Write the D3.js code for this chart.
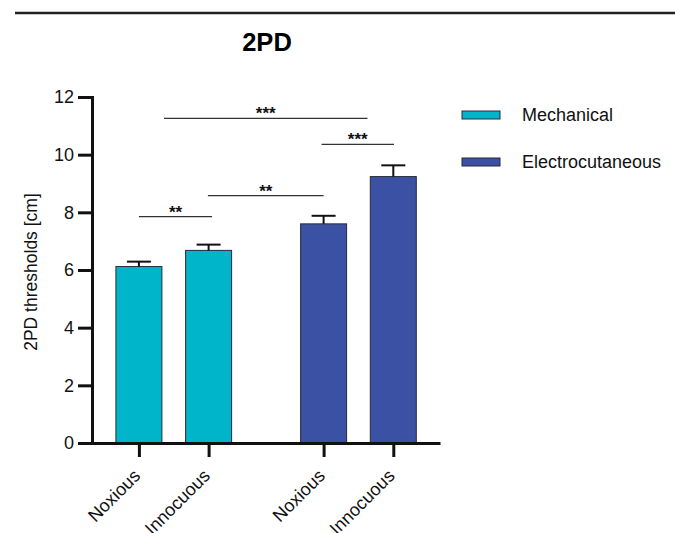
<!DOCTYPE html>
<html>
<head>
<meta charset="utf-8">
<script src="https://cdn.jsdelivr.net/npm/d3@7"></script>
<style>
  body { margin: 0; background: #fff; }
  svg { font-family: Arial, "Liberation Sans", sans-serif; }
</style>
</head>
<body>
<div id="chart"></div>
<script>
// data
var groups = ["Mechanical", "Electrocutaneous"];
var conditions = ["Noxious", "Innocuous"];
var means = [[6.12, 6.68], [7.6, 9.24]];
var errors = [[0.17, 0.2], [0.28, 0.39]];
var colors = ["#00b5c9", "#3a51a4"];
var yTicks = [0, 2, 4, 6, 8, 10, 12];
// significance brackets: start/end in bar slots, height in cm, label
var sigStart = [0, 0.99, 2.62, 0.36];
var sigEnd = [1.05, 2.65, 3.66, 3.28];
var sigLevel = [7.85, 8.58, 10.36, 11.26];
var sigLabel = ["**", "**", "***", "***"];

var svgWidth = 675, svgHeight = 533;
var groupGap = 2.65;

var svg = d3.select("#chart").append("svg")
  .attr("width", svgWidth)
  .attr("height", svgHeight);

// top rule
svg.append("line")
  .attr("x1", 15).attr("x2", 675)
  .attr("y1", 13).attr("y2", 13)
  .attr("stroke", "#222").attr("stroke-width", 2.5);

// title
svg.append("text")
  .attr("x", 267).attr("y", 51)
  .attr("text-anchor", "middle")
  .attr("font-size", "25.5px")
  .attr("font-weight", "bold")
  .text("2PD");

var slot = (g, c) => g * groupGap + c;

var x = d3.scaleLinear().domain([-0.673, 4.32]).range([92, 440]);
var y = d3.scaleLinear().domain([0, 12]).range([443, 97]);
var barW = 46;

// flatten bars
var bars = [];
groups.forEach((g, gi) => {
  conditions.forEach((c, ci) => {
    bars.push({ group: gi, cond: c, value: means[gi][ci], err: errors[gi][ci], pos: slot(gi, ci) });
  });
});

var chart = svg.append("g");

chart.selectAll("rect.bar")
  .data(bars)
  .enter()
  .append("rect")
  .attr("class", "bar")
  .attr("x", d => x(d.pos) - barW / 2)
  .attr("y", d => y(d.value))
  .attr("width", barW)
  .attr("height", d => y(0) - y(d.value))
  .attr("fill", d => colors[d.group])
  .attr("stroke", "#2a2a3a")
  .attr("stroke-width", 1);

// error bars (upper only)
chart.selectAll("line.err")
  .data(bars)
  .enter()
  .append("line")
  .attr("x1", d => x(d.pos)).attr("x2", d => x(d.pos))
  .attr("y1", d => y(d.value)).attr("y2", d => y(d.value + d.err))
  .attr("stroke", "#111").attr("stroke-width", 2);

chart.selectAll("line.cap")
  .data(bars)
  .enter()
  .append("line")
  .attr("x1", d => x(d.pos) - 12).attr("x2", d => x(d.pos) + 12)
  .attr("y1", d => y(d.value + d.err)).attr("y2", d => y(d.value + d.err))
  .attr("stroke", "#111").attr("stroke-width", 2);

// y axis
var yAxis = svg.append("g")
  .attr("transform", "translate(92,0)")
  .call(d3.axisLeft(y).tickValues(yTicks).tickSize(14).tickPadding(4));
yAxis.select(".domain").attr("stroke", "#111").attr("stroke-width", 3);
yAxis.selectAll(".tick line").attr("stroke", "#111").attr("stroke-width", 3);
yAxis.selectAll(".tick text")
  .attr("font-size", "18px")
  .attr("fill", "#111")
  .attr("font-family", "Arial, 'Liberation Sans', sans-serif");

// x axis
var xAxis = svg.append("g")
  .attr("transform", "translate(0,443)")
  .call(d3.axisBottom(x)
    .tickValues(bars.map(d => d.pos))
    .tickFormat((d, i) => bars[i].cond)
    .tickSize(14)
    .tickSizeOuter(0));
xAxis.select(".domain").attr("stroke", "#111").attr("stroke-width", 3);
xAxis.selectAll(".tick line").attr("stroke", "#111").attr("stroke-width", 3);
xAxis.selectAll(".tick text")
  .attr("font-size", "18px")
  .attr("fill", "#111")
  .attr("font-family", "Arial, 'Liberation Sans', sans-serif")
  .attr("text-anchor", "end")
  .attr("y", 0).attr("dy", 0)
  .attr("transform", "translate(2,34) rotate(-45)");

// y axis title
svg.append("text")
  .attr("transform", "translate(37,272) rotate(-90)")
  .attr("text-anchor", "middle")
  .attr("font-size", "17.5px")
  .attr("fill", "#111")
  .text("2PD thresholds [cm]");

// significance
var sigG = svg.append("g");
sigG.selectAll("line.sig")
  .data(sigLabel)
  .enter()
  .append("line")
  .attr("x1", (d, i) => x(sigStart[i]))
  .attr("x2", (d, i) => x(sigEnd[i]))
  .attr("y1", (d, i) => y(sigLevel[i])).attr("y2", (d, i) => y(sigLevel[i]))
  .attr("stroke", "#333").attr("stroke-width", 1.3);

sigG.selectAll("text.sig")
  .data(sigLabel)
  .enter()
  .append("text")
  .attr("x", (d, i) => (x(sigStart[i]) + x(sigEnd[i])) / 2)
  .attr("y", (d, i) => y(sigLevel[i]) + 1)
  .attr("text-anchor", "middle")
  .attr("font-size", "17px")
  .attr("font-weight", "bold")
  .attr("fill", "#111")
  .text(d => d);

// legend
var legend = svg.append("g").selectAll("g")
  .data(groups)
  .enter()
  .append("g")
  .attr("transform", (d, i) => `translate(462, ${115 + i * 47})`);

legend.append("rect")
  .attr("x", 0).attr("y", -4)
  .attr("width", 38).attr("height", 8)
  .attr("fill", (d, i) => colors[i])
  .attr("stroke", "#2a2a3a").attr("stroke-width", 1);

legend.append("text")
  .attr("x", 60).attr("y", 0)
  .attr("dy", "0.35em")
  .attr("font-size", "18px")
  .attr("fill", "#111")
  .text(d => d);
</script>
</body>
</html>
